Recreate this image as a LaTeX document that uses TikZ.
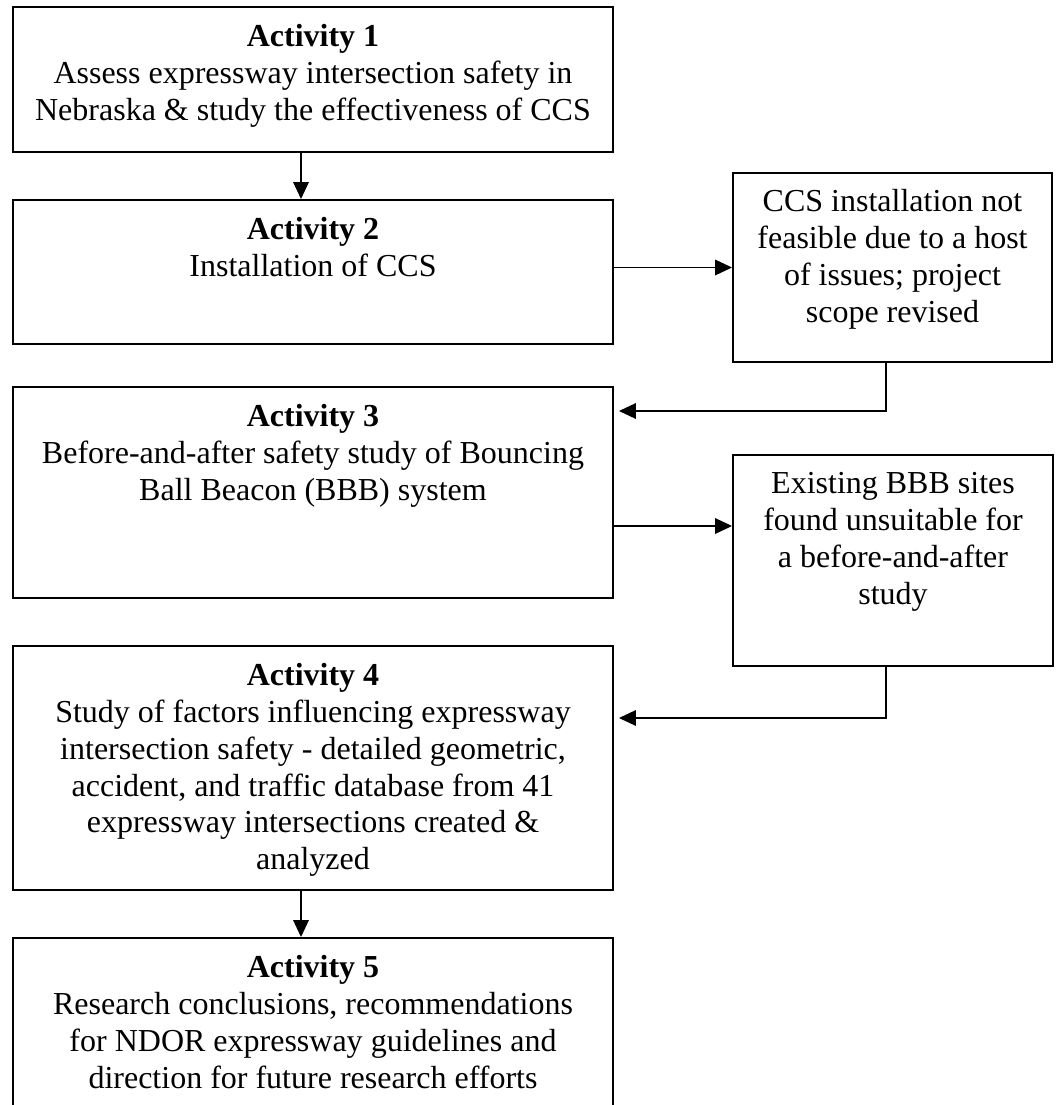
\documentclass[tikz,border=0pt]{standalone}
\usepackage{fontspec}
\setmainfont{Liberation Serif}
\usetikzlibrary{arrows.meta,calc}
\begin{document}
\begin{tikzpicture}[x=0.4pt,y=-0.4pt,
  boxshape/.style={draw,line width=0.75pt,inner sep=0pt,rectangle},
  txt/.style={align=center,inner sep=0pt,anchor=north,font=\fontsize{12.8}{14.7}\selectfont},
  arr/.style={line width=0.7pt,-{Triangle[length=6.8pt,width=6.2pt]}}]
\useasboundingbox (0,0) rectangle (1055,1105);
\clip (0,0) rectangle (1055,1105);
% boxes
\node[boxshape,minimum width=240pt,minimum height=58pt] (b1) at (313,79.5) {};
\node[boxshape,minimum width=240pt,minimum height=57.6pt] (b2) at (313,272) {};
\node[boxshape,minimum width=127.6pt,minimum height=75.6pt] (sa) at (892.5,267.5) {};
\node[boxshape,minimum width=240pt,minimum height=84.4pt] (b3) at (313,492.5) {};
\node[boxshape,minimum width=128pt,minimum height=84.4pt] (sb) at (893,560.5) {};
\node[boxshape,minimum width=240pt,minimum height=97.6pt] (b4) at (313,768) {};
\node[boxshape,minimum width=240pt,minimum height=76.8pt] (b5) at (313,1034) {};
% texts
\node[txt] (t1) at ([yshift=-7.2pt]b1.north) {\textbf{Activity 1}\\Assess expressway intersection safety in\\Nebraska \& study the effectiveness of CCS};
\node[txt] (t2) at ([yshift=-7.2pt]b2.north) {\textbf{Activity 2}\\Installation of CCS};
\node[txt] (ta) at ([yshift=-6.8pt]sa.north) {CCS installation not\\feasible due to a host\\of issues; project\\scope revised};
\node[txt] (t3) at ([yshift=-7.2pt]b3.north) {\textbf{Activity 3}\\Before-and-after safety study of Bouncing\\Ball Beacon (BBB) system};
\node[txt] (tb) at ([yshift=-7.2pt]sb.north) {Existing BBB sites\\found unsuitable for\\a before-and-after\\study};
\node[txt] (t4) at ([yshift=-7.2pt]b4.north) {\textbf{Activity 4}\\Study of factors influencing expressway\\intersection safety - detailed geometric,\\accident, and traffic database from 41\\expressway intersections created \&\\analyzed};
\node[txt] (t5) at ([yshift=-7.2pt]b5.north) {\textbf{Activity 5}\\Research conclusions, recommendations\\for NDOR expressway guidelines and\\direction for future research efforts};
% connectors
\draw[arr] ([xshift=-4.8pt]b1.south) -- ([xshift=-4.8pt]b2.north);
\draw[arr] (b2.east |- sa.west) -- (sa.west);
\draw[arr] ([xshift=-2.6pt]sa.south) |- ([yshift=32.6pt,xshift=2pt]b3.east);
\draw[arr] ([yshift=-13.4pt]b3.east) coordinate (c3) -- (c3 -| sb.west);
\draw[arr] ([xshift=-2.8pt]sb.south) |- ([yshift=20pt,xshift=2pt]b4.east);
\draw[arr] ([xshift=-4.8pt]b4.south) -- ([xshift=-4.8pt]b5.north);
\end{tikzpicture}
\end{document}
